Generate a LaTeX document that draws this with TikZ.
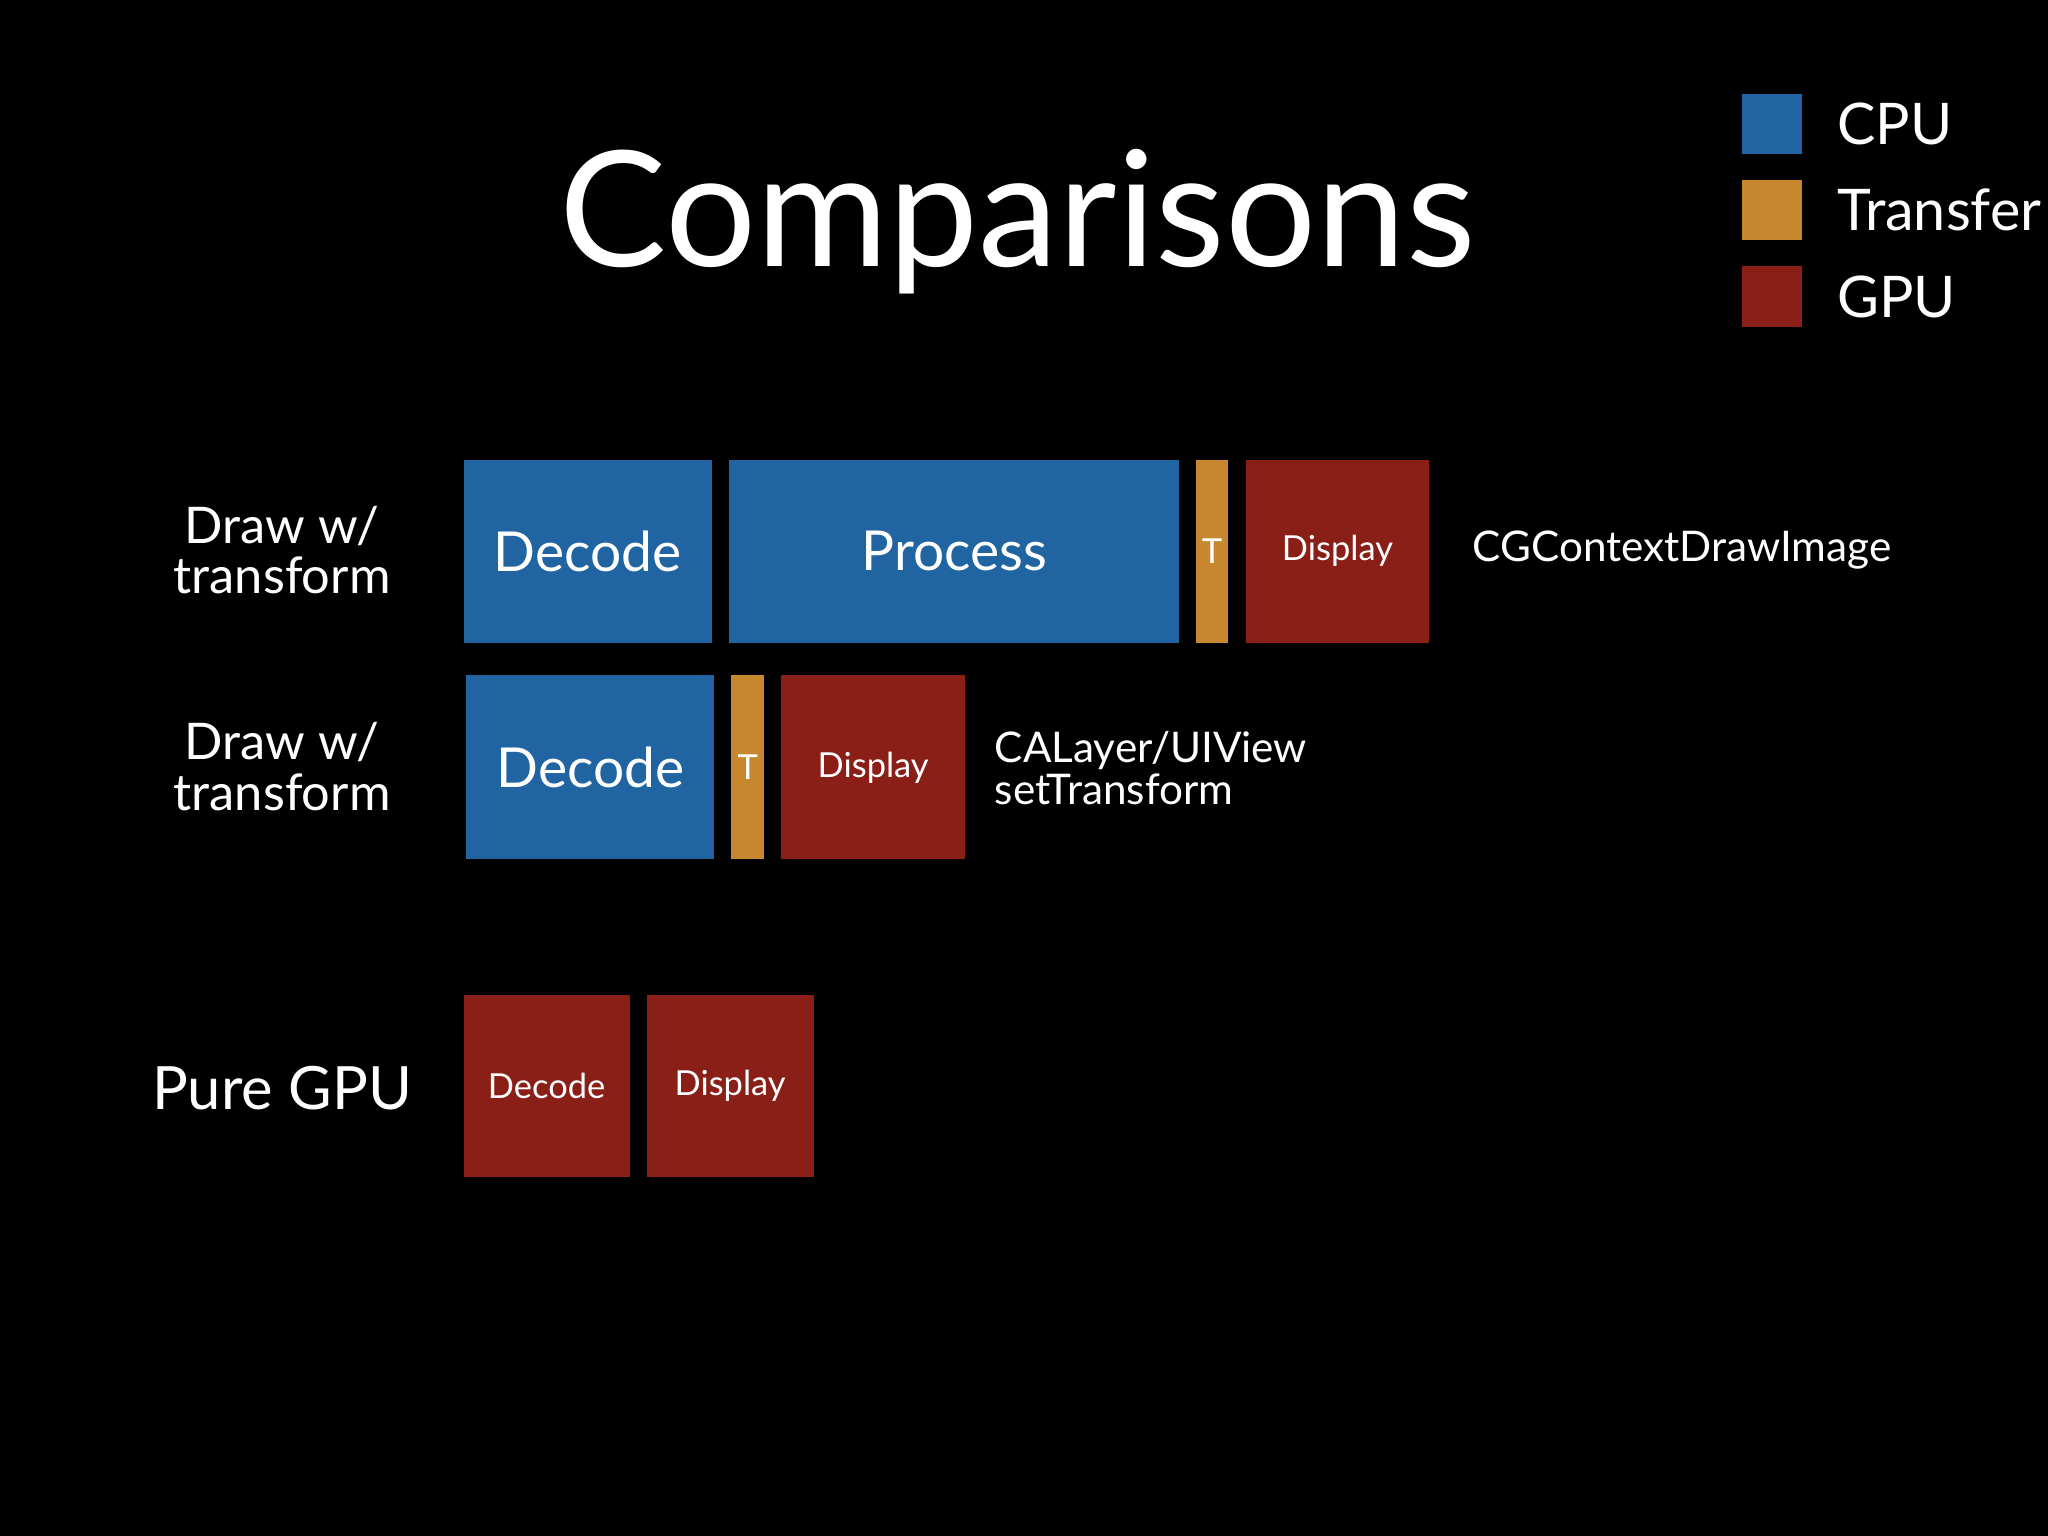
\documentclass[tikz,border=0pt]{standalone}
\usepackage{fontspec}
\setmainfont{Lato}
\definecolor{cpu}{HTML}{2064A2}
\definecolor{tr}{HTML}{C8862E}
\definecolor{gpu}{HTML}{8A1F18}
\begin{document}
\begin{tikzpicture}[x=0.01cm,y=-0.01cm,
  box/.style={anchor=north west,inner sep=0,outer sep=0,text=white},
  sz/.style 2 args={minimum width=#1*0.01cm,minimum height=#2*0.01cm},
  fs/.style={font=\fontsize{#1}{#1}\selectfont},
  lab/.style={text=white,align=center,fs=11}]
\fill[black] (0,0) rectangle (1568,1176);
\useasboundingbox (0,0) rectangle (1568,1176);
\node[text=white,fs=35] (title) at (779,170) {Comparisons};
% legend
\foreach \n/\c/\y/\t in {l1/cpu/72/CPU,l2/tr/138/Transfer,l3/gpu/204/GPU}{
  \node[box,fill=\c,sz={46}{46}] (\n) at (1334,\y) {};
  \node[text=white,anchor=west,fs=12.5,inner sep=0] (\n t) at (1406,\y+23) {\t};
}
% row 1
\node[lab] (r1) at (216,421) {Draw w/\\transform};
\node[box,fill=cpu,sz={190}{140},fs=12] (a1) at (355,352) {Decode};
\node[box,fill=cpu,sz={345}{140},fs=12] (a2) at (558,352) {Process};
\node[box,fill=tr,sz={24}{140},fs=7.5] (a3) at (916,352) {T};
\node[box,fill=gpu,sz={140}{140},fs=7.5] (a4) at (954,352) {Display};
\node[text=white,anchor=west,inner sep=0,fs=9.2] (a5) at (1127,421) {CGContextDrawImage};
% row 2
\node[lab] (r2) at (216,587) {Draw w/\\transform};
\node[box,fill=cpu,sz={190}{141},fs=12] (b1) at (357,517) {Decode};
\node[box,fill=tr,sz={25}{141},fs=7.5] (b2) at (560,517) {T};
\node[box,fill=gpu,sz={141}{141},fs=7.5] (b3) at (598,517) {Display};
\node[text=white,anchor=west,inner sep=0,align=left,fs=9.2] (b4) at (761,588) {CALayer/UIView\\setTransform};
% row 3
\node[text=white,fs=13] (r3) at (216,833) {Pure GPU};
\node[box,fill=gpu,sz={127}{139},fs=7.5] (c1) at (355,762) {Decode};
\node[box,fill=gpu,sz={128}{139},fs=7.5] (c2) at (495,762) {Display};
\end{tikzpicture}
\end{document}
